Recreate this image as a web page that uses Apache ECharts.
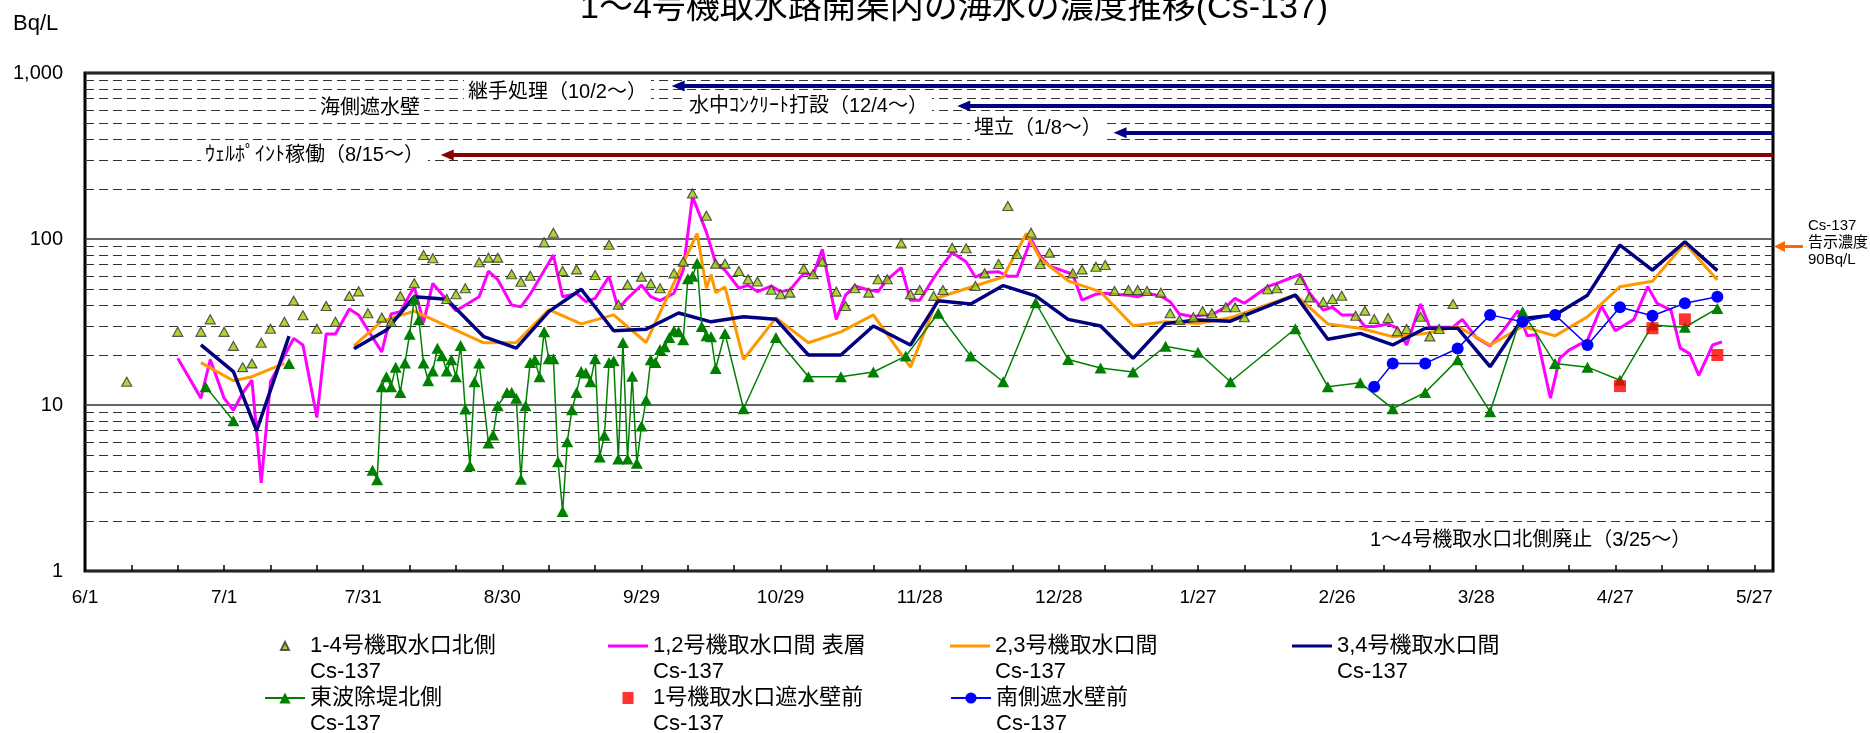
<!DOCTYPE html>
<html><head><meta charset="utf-8">
<script src="https://cdn.jsdelivr.net/npm/echarts@6/dist/echarts.min.js"></script>
<style>html,body{margin:0;padding:0;background:#fff}#c{width:1870px;height:733px}</style>
</head><body><div id="c"></div>
<script>
// ---------------- data (date 'M/D', Bq/L) ----------------
const north14 = [ // 1-4号機取水口北側 Cs-137
 ['6/10',13.8],['6/21',27.6],['6/26',27.6],['6/28',32.8],['7/1',27.6],['7/3',22.7],['7/5',16.9],['7/7',17.8],
 ['7/9',23.7],['7/11',28.8],['7/14',31.7],['7/16',42.5],['7/18',34.7],['7/21',28.8],['7/23',39.5],['7/25',31.7],
 ['7/28',45.4],['7/30',48.4],['8/1',35.7],['8/4',33.6],['8/6',31.7],['8/8',45.4],['8/11',54.1],['8/13',80.1],
 ['8/15',76.6],['8/18',43.5],['8/20',46.5],['8/22',50.5],['8/25',72.4],['8/27',77.2],['8/29',77.2],['9/1',61.3],
 ['9/3',55.3],['9/5',60.1],['9/8',95.5],['9/10',109],['9/12',64.2],['9/15',65.6],['9/19',60.7],['9/22',92.4],
 ['9/24',40.2],['9/26',53.1],['9/29',59.3],['10/1',54],['10/3',50.5],['10/6',62.1],['10/8',73],['10/10',188],
 ['10/13',138],['10/15',71],['10/17',71],['10/20',64.2],['10/22',57.2],['10/24',55.5],['10/27',49.5],['10/29',46.5],
 ['10/31',47.5],['11/3',66.2],['11/5',61.3],['11/7',73],['11/10',48.2],['11/12',39.5],['11/14',50.5],['11/17',47.5],
 ['11/19',57.2],['11/21',57.2],['11/24',94.2],['11/26',46.5],['11/28',49.3],['12/1',45.4],['12/3',49.3],['12/5',88.7],
 ['12/8',87.9],['12/10',52.1],['12/12',62.1],['12/15',70.7],['12/17',158],['12/19',81.2],['12/22',109],['12/24',70.7],
 ['12/26',82.7],['12/31',62.1],['1/2',65.6],['1/5',68.1],['1/7',69.7],['1/9',48.6],['1/12',49.3],['1/14',49.3],
 ['1/16',48.6],['1/19',47.5],['1/21',35.7],['1/23',32.5],['1/26',33.8],['1/28',36.8],['1/30',35.7],['2/2',38.8],
 ['2/4',38.8],['2/6',33.8],['2/11',49.8],['2/13',50.5],['2/18',56.6],['2/20',44.5],['2/23',41.7],['2/25',43.5],
 ['2/27',45.5],['3/2',34.5],['3/4',37],['3/6',33],['3/9',33.4],['3/11',27.8],['3/13',28.7],['3/16',34],
 ['3/18',25.9],['3/20',28.7],['3/23',40.6]
];
const unit12 = [ // 1,2号機取水口間 表層 Cs-137
 ['6/21',19.1],['6/26',11],['6/28',18.8],['7/1',11],['7/3',9.3],['7/5',11.8],['7/7',14.1],['7/9',3.4],
 ['7/11',13.8],['7/16',25.2],['7/18',23],['7/21',8.4],['7/23',26.8],['7/25',26.8],['7/28',37.9],['7/30',34.9],
 ['8/1',28.3],['8/4',20.9],['8/6',35.3],['8/8',36.5],['8/11',51.5],['8/13',31.4],['8/15',54],['8/20',37],
 ['8/25',44.9],['8/27',64],['8/29',57],['9/1',40],['9/3',39],['9/5',46.5],['9/10',80.1],['9/12',44.9],
 ['9/15',47],['9/17',41.9],['9/19',43.9],['9/22',59.3],['9/24',38],['9/26',43.9],['9/29',52.7],['10/1',44.9],
 ['10/3',42.5],['10/6',47.1],['10/8',65],['10/10',180],['10/13',110],['10/15',71.5],['10/17',65],['10/20',50.5],
 ['10/22',52.7],['10/24',48.2],['10/27',52],['10/29',48.2],['10/31',49.3],['11/3',62.1],['11/5',60.7],['11/7',86.6],
 ['11/10',32.8],['11/12',45.9],['11/14',52.1],['11/17',49.3],['11/19',48.2],['11/21',57],['11/24',67.3],['11/26',42.8],
 ['11/28',42.8],['12/1',58.1],['12/3',70],['12/5',82.7],['12/8',73],['12/10',58.9],['12/12',62.8],['12/15',63.5],
 ['12/17',59.6],['12/19',59.6],['12/22',99.8],['12/24',78.8],['12/26',68.7],['12/31',61.3],['1/2',42.8],['1/5',46.5],
 ['1/7',47.1],['1/9',46.5],['1/12',45.9],['1/14',44.9],['1/16',47.1],['1/19',45.4],['1/21',41.9],['1/23',35.3],
 ['1/26',34],['1/28',34.9],['1/30',35],['2/2',39],['2/4',43.9],['2/6',41],['2/11',51.6],['2/13',54],
 ['2/18',61.3],['2/20',47.5],['2/23',37.3],['2/25',38.8],['2/27',34.9],['3/2',34.9],['3/4',29.7],['3/6',29.7],
 ['3/9',30.7],['3/11',29],['3/13',23],['3/16',40.6],['3/18',29.4],['3/20',29.4],['3/23',29.4],['3/25',32.8],
 ['3/28',25.5],['3/31',22.7],['4/3',28.5],['4/6',37],['4/8',26.1],['4/10',26.5],['4/13',11],['4/15',19.1],
 ['4/17',21.4],['4/21',24.6],['4/24',39.5],['4/27',28],['5/1',32.8],['5/4',51.6],['5/6',41],['5/9',37.3],
 ['5/11',22],['5/13',20.4],['5/15',15.1],['5/18',23],['5/20',24]
];
const unit23 = [ // 2,3号機取水口間 Cs-137
 ['6/26',18],['7/3',14],['7/7',14.8],['7/14',17.8],['7/21',null],['7/29',22.7],['8/4',32],['8/11',36.8],
 ['8/26',23.7],['9/2',23.8],['9/9',37.5],['9/16',30.8],['9/23',34.9],['9/30',23.8],['10/11',108],['10/13',50.5],
 ['10/14',61],['10/15',47.5],['10/17',51.5],['10/21',18.8],['10/28',33.5],['11/4',23.7],['11/11',27.6],['11/18',34.9],
 ['11/26',16.9],['12/2',44.4],['12/16',59],['12/21',108],['12/24',76],['12/30',56],['1/6',48],['1/13',30],
 ['1/20',31.7],['1/27',31],['2/3',33.5],['2/17',46.2],['2/24',30.8],['3/3',29],['3/10',25.8],['3/17',27],
 ['3/24',29.7],['3/31',23],['4/7',29.7],['4/14',26.1],['4/21',34],['4/28',51.6],['5/5',55.7],['5/12',94.2],
 ['5/19',56.6]
];
const unit34 = [ // 3,4号機取水口間 Cs-137
 ['6/26',23],['7/3',15.9],['7/8',7],['7/15',26],['7/21',null],['7/29',21.8],['8/5',28.3],['8/11',44.9],
 ['8/18',43.3],['8/26',25.8],['9/2',22],['9/9',36.5],['9/16',49.8],['9/23',28],['9/30',28.6],['10/7',35.8],
 ['10/14',31.7],['10/21',34],['10/28',32.8],['11/4',20],['11/11',20],['11/18',29.9],['11/26',23],['12/2',42.5],
 ['12/9',40.6],['12/16',52.4],['12/23',45.4],['12/30',32.8],['1/6',29.9],['1/13',19.1],['1/20',31],['1/27',32.5],
 ['2/3',32],['2/17',45.9],['2/24',24.9],['3/3',27],['3/10',23],['3/17',29],['3/24',29],['3/31',17],
 ['4/7',33.2],['4/14',34.9],['4/21',45.9],['4/28',92],['5/5',65],['5/12',96.2],['5/19',64.5]
];
const eastBreakwater = [ // 東波除堤北側 Cs-137
 ['6/27',12.9],['7/3',8.04],['7/9',null],['7/15',17.8],['7/25',null],
 ['8/2',4.05],['8/3',3.55],['8/4',12.9],['8/5',14.8],['8/6',12.9],['8/7',16.9],['8/8',11.9],['8/9',17.9],
 ['8/10',26.7],['8/11',43.4],['8/12',32.6],['8/13',17.9],['8/14',14],['8/15',16],['8/16',22],['8/17',19.8],
 ['8/18',16],['8/19',18.7],['8/20',14.8],['8/21',22.8],['8/22',9.45],['8/23',4.3],['8/24',13.8],['8/25',17.9],
 ['8/27',5.9],['8/28',6.6],['8/29',9.9],['8/31',11.9],['9/1',11.9],['9/2',11],['9/3',3.57],['9/4',9.9],
 ['9/5',18],['9/6',18.7],['9/7',14.8],['9/8',27.6],['9/9',19],['9/10',19],['9/11',4.55],['9/12',2.28],
 ['9/13',6],['9/14',9.35],['9/15',11.9],['9/16',15.9],['9/17',15.6],['9/18',13.8],['9/19',19],['9/20',4.86],
 ['9/21',6.58],['9/22',18],['9/23',18.5],['9/24',4.73],['9/25',23.8],['9/26',4.73],['9/27',14.9],['9/28',4.45],
 ['9/29',7.47],['9/30',10.7],['10/1',18.7],['10/2',18],['10/3',21.6],['10/4',22.4],['10/5',25.5],['10/6',28],
 ['10/7',27.6],['10/8',24.7],['10/9',57.7],['10/10',59.6],['10/11',71.5],['10/12',29.7],['10/13',26.1],['10/14',25.8],
 ['10/15',16.6],['10/17',27],['10/21',9.5],['10/28',25.5],['11/4',14.8],['11/11',14.8],['11/18',15.8],['11/25',19.7],
 ['12/2',35.7],['12/9',19.7],['12/16',13.8],['12/23',41.3],['12/30',18.8],['1/6',16.7],['1/13',15.8],['1/20',22.6],
 ['1/27',20.8],['2/3',13.8],['2/17',28.8],['2/24',12.9],['3/3',13.6],['3/10',9.5],['3/17',11.9],['3/24',18.7],
 ['3/31',9.1],['4/7',36.5],['4/14',17.8],['4/21',16.9],['4/28',14.1],['5/5',30.3],['5/12',29.4],['5/19',38.2]
];
const unit1Wall = [ // 1号機取水口遮水壁前 Cs-137
 ['4/28',13],['5/5',29],['5/12',32.8],['5/19',20]
];
const southWall = [ // 南側遮水壁前 Cs-137
 ['3/6',12.9],['3/10',17.8],['3/17',17.8],['3/24',21.9],['3/31',34.9],['4/7',31.7],['4/14',34.9],['4/21',23],
 ['4/28',38.8],['5/5',34.5],['5/12',41],['5/19',44.9]
];
const seriesNames = ['1-4号機取水口北側','1,2号機取水口間 表層','2,3号機取水口間','3,4号機取水口間','東波除堤北側','1号機取水口遮水壁前','南側遮水壁前'];
const unitSuffix = 'Cs-137';
const titleText = '1～4号機取水路開渠内の海水の濃度推移(Cs-137)';

// ---------------- helpers ----------------
const START = Date.UTC(2013, 5, 1);
const DAY = 86400000;
function toDay(md){ const [m,d] = md.split('/').map(Number); const y = m >= 6 ? 2013 : 2014; return (Date.UTC(y, m-1, d) - START) / DAY; }
function dayLabel(v){ const t = new Date(START + Math.round(v) * DAY); return (t.getUTCMonth()+1) + '/' + t.getUTCDate(); }
const pts = arr => arr.map(([md, v]) => [toDay(md), v]);

const FONT = '"Liberation Sans", "Noto Sans CJK JP", sans-serif';
const minorVals = [];
[1,10,100].forEach(d => { for (let k = 2; k <= 9; k++) minorVals.push(k*d); });

const gridMarks = {
  silent: true, symbol: 'none', z: 1, animation: false, label: {show: false},
  lineStyle: {color: '#333', width: 1, type: [9, 5]},
  emphasis: {disabled: true},
  data: minorVals.map(v => ({yAxis: v}))
};
const arrowEnd = {symbol: 'triangle', symbolSize: [11, 13]};
const navyArrows = {
  silent: true, z: 6, animation: false, label: {show: false},
  lineStyle: {color: '#000080', width: 4, type: 'solid'},
  emphasis: {disabled: true},
  data: [
    [{coord: [127.9, 835], ...arrowEnd}, {coord: [364, 835], symbol: 'none'}],
    [{coord: [189.5, 632], ...arrowEnd}, {coord: [364, 632], symbol: 'none'}],
    [{coord: [223.2, 437], ...arrowEnd}, {coord: [364, 437], symbol: 'none'}]
  ]
};
const redArrow = {
  silent: true, z: 6, animation: false, label: {show: false},
  lineStyle: {color: '#8B0000', width: 4, type: 'solid'},
  emphasis: {disabled: true},
  data: [[{coord: [78.1, 321], ...arrowEnd}, {coord: [364, 321], symbol: 'none'}]]
};

// legend icons (40x14 box)
const ICON_LINE = 'path://M0 0M40 14M0 5.5H40V8.5H0Z';
const ICON_TRI = 'path://M0 0M40 14M16 11L20 3L24 11Z';
const ICON_SQ = 'path://M0 0M40 14M14.5 1H25.5V13H14.5Z';
const legendCols = [264, 608, 950, 1292];
const legendRows = [607, 659];
const legendSpec = [ // [series index, col, row, icon]
  [0,0,0,ICON_TRI],[1,1,0,ICON_LINE],[2,2,0,ICON_LINE],[3,3,0,ICON_LINE],[4,0,1,null],[5,1,1,ICON_SQ],[6,2,1,null]
];
const legends = legendSpec.map(([i,c,r,icon]) => {
  const l = {
    data: [seriesNames[i]], left: legendCols[c], top: legendRows[r], padding: 0,
    itemWidth: 40, itemHeight: 14, selectedMode: false,
    formatter: n => '\n' + n + '\n' + unitSuffix,
    textStyle: {fontSize: 22, fontFamily: FONT, color: '#000', lineHeight: 26}
  };
  if (icon) l.icon = icon;
  return l;
});

function label(text, x, y, size, bg){
  return {type: 'text', x, y, z: 50, silent: true,
    style: {text, font: size + 'px ' + FONT, fill: '#000', align: 'left', verticalAlign: 'middle',
      backgroundColor: bg ? '#fff' : null, padding: bg ? [2, 4] : 0}};
}

const chart = echarts.init(document.getElementById('c'), null, {renderer: 'canvas'});
chart.setOption({
  animation: false,
  backgroundColor: '#fff',
  title: {text: titleText, left: 954, top: -8, textAlign: 'center', padding: 0,
    textStyle: {fontSize: 34, fontWeight: 'normal', fontFamily: FONT, color: '#000'}},
  legend: legends,
  grid: {left: 85, right: 97, top: 73, bottom: 162, show: true, borderColor: '#000', borderWidth: 3, backgroundColor: 'transparent'},
  xAxis: {
    type: 'value', min: 0, max: 364, interval: 10,
    axisLine: {show: false},
    axisTick: {show: true, inside: true, length: 6, lineStyle: {color: '#000', width: 1.5}},
    axisLabel: {margin: 17, fontSize: 19, fontFamily: FONT, color: '#000', showMaxLabel: false,
      formatter: v => (Math.round(v) % 30 === 0 ? dayLabel(v) : '')},
    splitLine: {show: false}
  },
  yAxis: {
    type: 'log', logBase: 10, min: 1, max: 1000,
    axisLine: {show: false}, axisTick: {show: false},
    axisLabel: {margin: 22, fontSize: 20, fontFamily: FONT, color: '#000',
      formatter: v => { const r = Math.round(v); return r >= 1000 ? r.toLocaleString('en-US') : String(r); }},
    splitLine: {show: true, lineStyle: {color: '#333', width: 1.5}}
  },
  series: [
    {name: seriesNames[1], type: 'line', data: pts(unit12), symbol: 'none', z: 2,
      lineStyle: {color: '#FF00FF', width: 3}, itemStyle: {color: '#FF00FF'}, emphasis: {disabled: true}},
    {name: seriesNames[2], type: 'line', data: pts(unit23), symbol: 'none', z: 2,
      lineStyle: {color: '#FF9900', width: 3}, itemStyle: {color: '#FF9900'}, emphasis: {disabled: true}, markLine: redArrow},
    {name: seriesNames[3], type: 'line', data: pts(unit34), symbol: 'none', z: 2,
      lineStyle: {color: '#000080', width: 3.5}, itemStyle: {color: '#000080'}, emphasis: {disabled: true}, markLine: navyArrows},
    {name: seriesNames[4], type: 'line', data: pts(eastBreakwater), symbol: 'triangle', symbolSize: [12, 11], showAllSymbol: true, z: 2,
      lineStyle: {color: '#008000', width: 1.5}, itemStyle: {color: '#008000'}, emphasis: {disabled: true}, markLine: gridMarks},
    {name: seriesNames[5], type: 'scatter', data: pts(unit1Wall), symbol: 'rect', symbolSize: 12, z: 3,
      itemStyle: {color: '#FF0000'}, emphasis: {disabled: true}},
    {name: seriesNames[6], type: 'line', data: pts(southWall), symbol: 'circle', symbolSize: 12, showAllSymbol: true, z: 3,
      lineStyle: {color: '#0000FF', width: 1.5}, itemStyle: {color: '#0000FF'}, emphasis: {disabled: true}},
    {name: seriesNames[0], type: 'scatter', data: pts(north14), symbol: 'triangle', symbolSize: [10, 9], z: 4,
      itemStyle: {color: '#99CC00', borderColor: '#333', borderWidth: 1.2}, emphasis: {disabled: true}}
  ],
  graphic: [
    label('Bq/L', 13, 24, 22, false),
    label('海側遮水壁', 316, 108, 20, true),
    label('継手処理（10/2～）', 464, 92, 20, true),
    label('水中ｺﾝｸﾘｰﾄ打設（12/4～）', 685, 106, 20, true),
    label('埋立（1/8～）', 970, 128, 20, true),
    label('ｳｪﾙﾎﾟｲﾝﾄ稼働（8/15～）', 201, 155, 20, true),
    label('1～4号機取水口北側廃止（3/25～）', 1366, 540, 20, true),
    {type: 'text', x: 1808, y: 217, silent: true,
      style: {text: 'Cs-137\n告示濃度\n90Bq/L', font: '15px ' + FONT, fill: '#000', lineHeight: 17, align: 'left', verticalAlign: 'top'}},
    {type: 'polyline', silent: true, shape: {points: [[1803, 246.5], [1783, 246.5]]}, style: {stroke: '#FF6600', lineWidth: 3}},
    {type: 'polygon', silent: true, shape: {points: [[1774, 246.5], [1785, 241], [1785, 252]]}, style: {fill: '#FF6600'}}
  ]
});
</script></body></html>
